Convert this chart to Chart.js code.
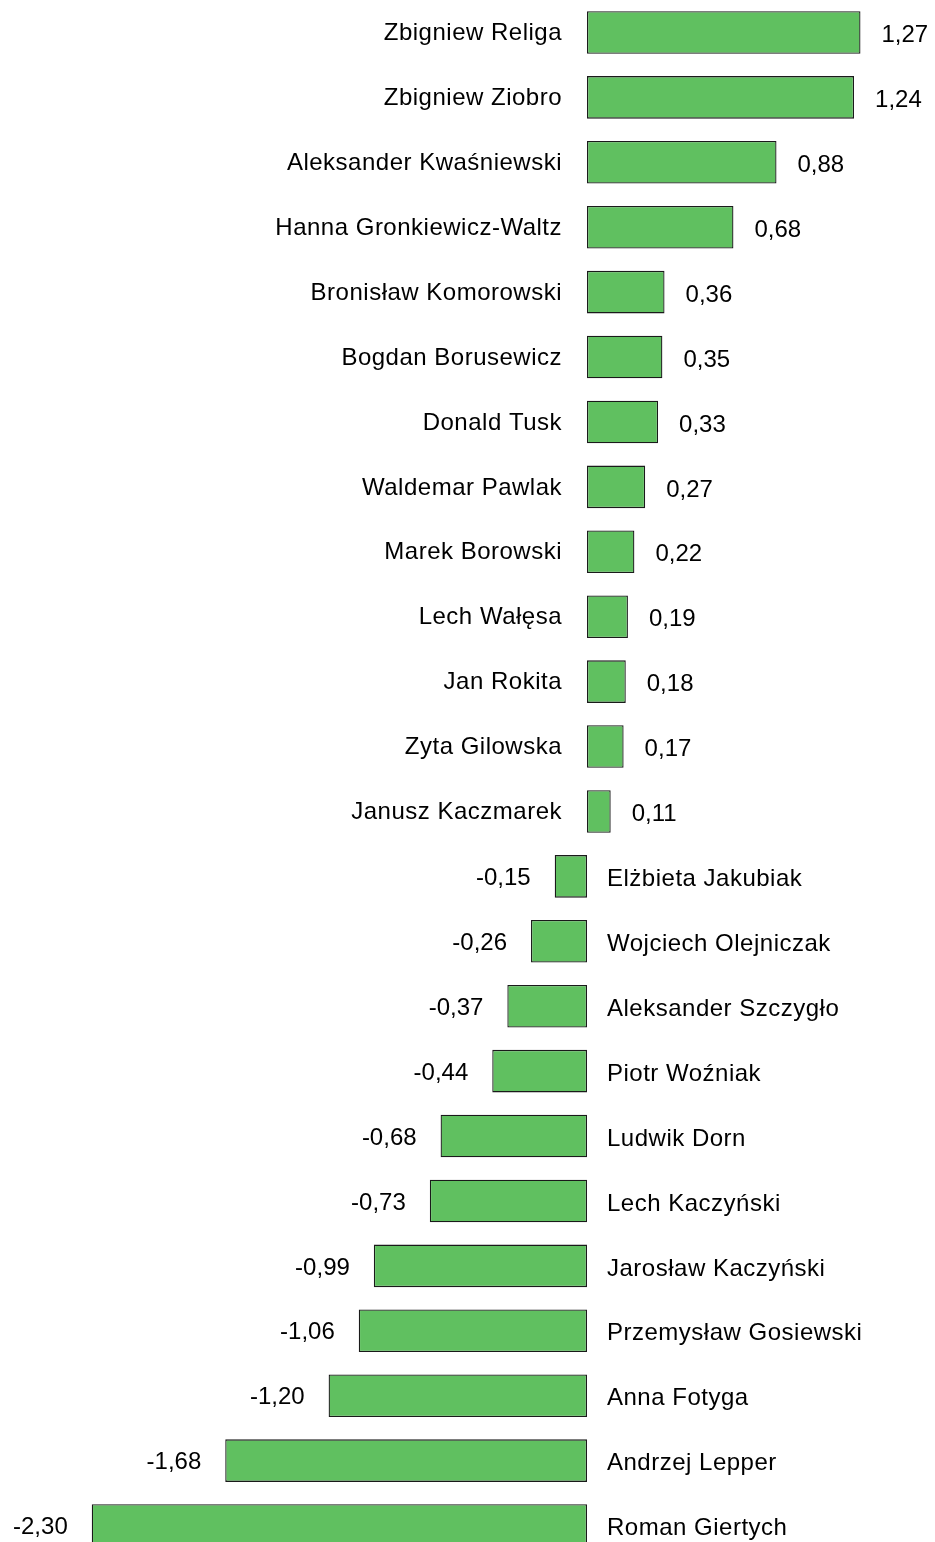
<!DOCTYPE html>
<html>
<head>
<meta charset="utf-8">
<script src="https://cdn.jsdelivr.net/npm/chart.js@4"></script>
<style>
  html, body { margin: 0; padding: 0; background: #fff; overflow: hidden; }
</style>
</head>
<body>
<canvas id="wykres" width="935" height="1558"></canvas>
<script>
// Dane
const nazwiska = [
    'Zbigniew Religa', 'Zbigniew Ziobro', 'Aleksander Kwaśniewski', 'Hanna Gronkiewicz-Waltz',
    'Bronisław Komorowski', 'Bogdan Borusewicz', 'Donald Tusk', 'Waldemar Pawlak',
    'Marek Borowski', 'Lech Wałęsa', 'Jan Rokita', 'Zyta Gilowska', 'Janusz Kaczmarek',
    'Elżbieta Jakubiak', 'Wojciech Olejniczak', 'Aleksander Szczygło', 'Piotr Woźniak',
    'Ludwik Dorn', 'Lech Kaczyński', 'Jarosław Kaczyński', 'Przemysław Gosiewski',
    'Anna Fotyga', 'Andrzej Lepper', 'Roman Giertych'
];
const oceny = [
    1.27, 1.24, 0.88, 0.68, 0.36, 0.35, 0.33, 0.27, 0.22, 0.19, 0.18, 0.17, 0.11,
    -0.15, -0.26, -0.37, -0.44, -0.68, -0.73, -0.99, -1.06, -1.20, -1.68, -2.30
];
const zakresX = [-2.726, 1.616];

// Etykiety: nazwisko po stronie przeciwnej do słupka, wartość za końcem słupka
const etykiety = {
    id: 'etykiety',
    afterDatasetsDraw(chart) {
        const ctx = chart.ctx;
        const zero = chart.scales.x.getPixelForValue(0);
        const meta = chart.getDatasetMeta(0);
        ctx.save();
        ctx.fillStyle = '#000';
        ctx.textBaseline = 'middle';
        meta.data.forEach((bar, i) => {
            const v = oceny[i];
            const tekst = v.toFixed(2).replace('.', ',');
            ctx.font = '24px "Liberation Sans", Arial, sans-serif';
            ctx.letterSpacing = '0.5px';
            if (v >= 0) {
                ctx.textAlign = 'right';
                ctx.fillText(nazwiska[i], zero - 25, bar.y + 1);
            } else {
                ctx.textAlign = 'left';
                ctx.fillText(nazwiska[i], zero + 20, bar.y + 3);
            }
            ctx.letterSpacing = '0px';
            if (v >= 0) {
                ctx.textAlign = 'left';
                ctx.fillText(tekst, bar.x + 21, bar.y + 3);
            } else {
                ctx.textAlign = 'right';
                ctx.fillText(tekst, bar.x - 24, bar.y + 2);
            }
        });
        ctx.restore();
    }
};

const ctx = document.getElementById('wykres').getContext('2d');
new Chart(ctx, {
    type: 'bar',
    data: {
        labels: nazwiska,
        datasets: [{
            data: oceny,
            backgroundColor: '#60c060',
            borderColor: '#1a1a1a',
            borderWidth: 1.3,
            borderSkipped: false,
            barPercentage: 0.655,
            categoryPercentage: 1
        }]
    },
    options: {
        indexAxis: 'y',
        responsive: false,
        animation: false,
        devicePixelRatio: 1,
        layout: { padding: 0 },
        plugins: {
            legend: { display: false },
            tooltip: { enabled: false }
        },
        scales: {
            x: { display: false, min: zakresX[0], max: zakresX[1] },
            y: { display: false }
        }
    },
    plugins: [etykiety]
});
</script>
</body>
</html>
